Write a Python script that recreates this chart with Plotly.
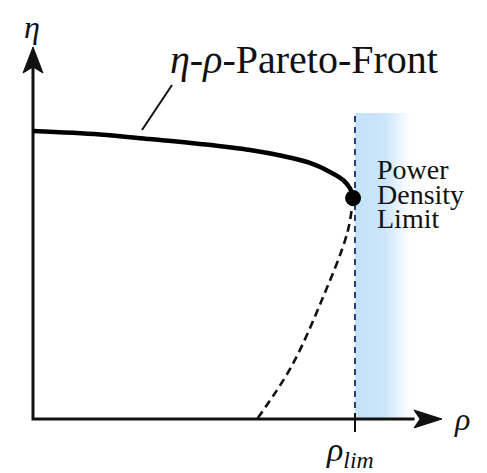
import plotly.graph_objects as go

# Pareto front of efficiency (eta) vs. power density (rho), normalised so that
# rho_lim = 1 and the front starts at eta = 1 on the eta axis.
front_rho = [0.0, 0.208, 0.363, 0.519, 0.674, 0.776, 0.860, 0.922, 0.963, 0.984, 0.994]
front_eta = [1.0, 0.988, 0.972, 0.955, 0.934, 0.913, 0.889, 0.858, 0.830, 0.802, 0.767]

# Continuation of designs beyond the optimum (dominated branch)
dom_rho = [0.994, 0.976, 0.897, 0.802, 0.696]
dom_eta = [0.767, 0.646, 0.413, 0.181, 0.0]

rho_lim = 1.0
limit_top = 1.0625       # upper end of the power-density-limit band
band_width = 0.171       # width of the shaded band beyond rho_lim

FONT = "Liberation Serif"
AX = "#111111"

fig = go.Figure()

# Shaded region beyond the power density limit (fades to white)
fig.add_trace(go.Scatter(
    x=[rho_lim, rho_lim + band_width, rho_lim + band_width, rho_lim, rho_lim],
    y=[0, 0, limit_top, limit_top, 0],
    mode="lines", line=dict(width=0), fill="toself",
    fillgradient=dict(type="horizontal",
                      colorscale=[[0, "rgb(196,226,249)"], [0.55, "rgb(204,230,250)"],
                                  [1, "rgba(255,255,255,1)"]]),
    hoverinfo="skip", showlegend=False))

# Dashed vertical line at rho_lim
fig.add_trace(go.Scatter(
    x=[rho_lim, rho_lim], y=[0, limit_top], mode="lines",
    line=dict(color="#2b3a7a", width=2, dash="6px,5px"),
    hoverinfo="skip", showlegend=False))

# Axes with arrow heads
fig.add_trace(go.Scatter(x=[0, 0, 1.185], y=[1.23, 0, 0], mode="lines",
                         line=dict(color=AX, width=3), hoverinfo="skip", showlegend=False))
fig.add_trace(go.Scatter(
    x=[0, 0.031, 0, -0.031, 0], y=[1.2917, 1.2014, 1.2222, 1.2014, 1.2917],
    mode="lines", line=dict(color=AX, width=1), fill="toself", fillcolor=AX,
    hoverinfo="skip", showlegend=False))
fig.add_trace(go.Scatter(
    x=[1.2702, 1.1832, 1.2019, 1.1832, 1.2702], y=[0, 0.031, 0, -0.031, 0],
    mode="lines", line=dict(color=AX, width=1), fill="toself", fillcolor=AX,
    hoverinfo="skip", showlegend=False))

# Tick at rho_lim
fig.add_trace(go.Scatter(x=[rho_lim, rho_lim], y=[0.02, -0.045], mode="lines",
                         line=dict(color=AX, width=2), hoverinfo="skip", showlegend=False))

# Dominated branch
fig.add_trace(go.Scatter(x=dom_rho, y=dom_eta, mode="lines", line_shape="spline",
                         line=dict(color="#111", width=2.6, dash="8px,5px"),
                         hoverinfo="skip", showlegend=False))

# Pareto front
fig.add_trace(go.Scatter(x=front_rho, y=front_eta, mode="lines", line_shape="spline",
                         line=dict(color="#000", width=4.5),
                         hoverinfo="skip", showlegend=False))

# Optimum at the limit
fig.add_trace(go.Scatter(x=[front_rho[-1]], y=[front_eta[-1]], mode="markers",
                         marker=dict(color="#000", size=16),
                         hoverinfo="skip", showlegend=False))

# Leader line to the front label
fig.add_trace(go.Scatter(x=[0.3385, 0.4317], y=[1.0035, 1.1597], mode="lines",
                         line=dict(color="#111", width=2), hoverinfo="skip", showlegend=False))

ann = [
    dict(x=-0.003, y=1.36, text="<i>η</i>", size=32, xanchor="center"),
    dict(x=1.30, y=0.0, text="<i>ρ</i>", size=32, xanchor="left"),
    dict(x=0.985, y=-0.115, text="<i>ρ</i><sub><i>lim</i></sub>", size=34, xanchor="center"),
    dict(x=0.42, y=1.25, text="<i>η</i>-<i>ρ</i>-Pareto-Front", size=40, xanchor="left"),
    dict(x=1.062, y=0.866, text="Power", size=28, xanchor="left"),
    dict(x=1.062, y=0.781, text="Density", size=28, xanchor="left"),
    dict(x=1.062, y=0.695, text="Limit", size=28, xanchor="left"),
]
for a in ann:
    fig.add_annotation(x=a["x"], y=a["y"], xref="x", yref="y", text=a["text"],
                       showarrow=False, xanchor=a["xanchor"], yanchor="middle",
                       font=dict(family=FONT, size=a["size"], color="#111"))

fig.update_layout(
    width=487, height=473, autosize=False,
    margin=dict(l=0, r=0, t=0, b=0),
    paper_bgcolor="white", plot_bgcolor="white",
    xaxis=dict(range=[-0.10248, 1.40994], visible=False, fixedrange=True),
    yaxis=dict(range=[-0.1875, 1.45486], visible=False, fixedrange=True),
    showlegend=False,
)

fig.write_html("out.html")
